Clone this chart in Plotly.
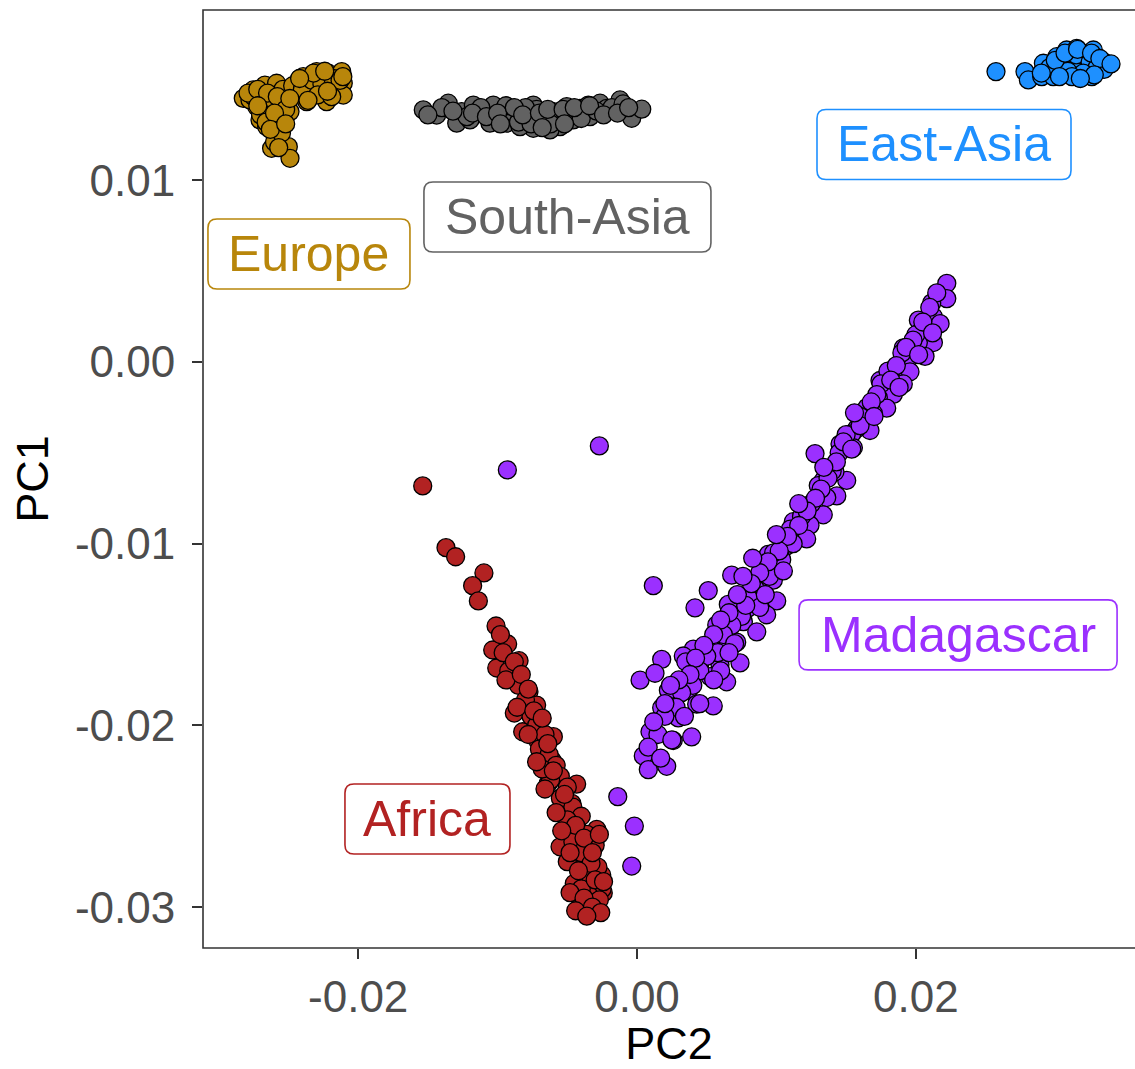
import plotly.graph_objects as go

# PCA scores: PC2 on the horizontal axis, PC1 on the vertical axis
europe_pc2 = [-0.02824, -0.02753, -0.02669, -0.02585, -0.02728, -0.02609, -0.02501, -0.02704,
              -0.02597, -0.02489, -0.02656, -0.02549, -0.02585, -0.02621, -0.02501, -0.02489,
              -0.02776, -0.02441, -0.02417, -0.02394, -0.02298, -0.02298, -0.02214, -0.02118,
              -0.02107, -0.02154, -0.02250, -0.02346, -0.02226, -0.02107, -0.02369,
              -0.0275, -0.0268, -0.0264, -0.0270, -0.0262, -0.0255, -0.0266, -0.0258, -0.0254,
              -0.0247, -0.0240, -0.0233, -0.0226, -0.0218, -0.0213, -0.0229, -0.0219, -0.0260,
              -0.0255,
              -0.0279, -0.0272, -0.0265, -0.0258, -0.0252, -0.0260, -0.0272, -0.0263, -0.0252,
              -0.0257, -0.0249, -0.0236, -0.0232, -0.0224, -0.0211, -0.0242, -0.0222]
europe_pc1 = [0.01451, 0.01497, 0.01524, 0.01534, 0.01405, 0.01424, 0.01433, 0.01332,
              0.01341, 0.01378, 0.01295, 0.01286, 0.01240, 0.01176, 0.01185, 0.01121,
              0.01442, 0.01479, 0.01561, 0.01570, 0.01543, 0.01598, 0.01589, 0.01598,
              0.01534, 0.01515, 0.01479, 0.01488, 0.01433, 0.01469, 0.01433,
              0.0146, 0.0141, 0.0137, 0.0136, 0.0145, 0.0141, 0.0132, 0.0130, 0.0150,
              0.0152, 0.0150, 0.0155, 0.0153, 0.0156, 0.0155, 0.0147, 0.0146, 0.0121,
              0.0126,
              0.0148, 0.0150, 0.0148, 0.0146, 0.0139, 0.0137, 0.0141, 0.0128, 0.0131,
              0.0118, 0.0145, 0.0144, 0.0159, 0.0160, 0.0157, 0.0156, 0.0149]

south_asia_pc2 = [-0.01533, -0.01437, -0.01354, -0.01258, -0.01293, -0.01174, -0.01103, -0.01031,
                  -0.00971, -0.00935, -0.00827, -0.00744, -0.00696, -0.00600, -0.00552, -0.00504,
                  -0.00409, -0.00337, -0.00265, -0.00217, -0.00122, -0.00098, -0.00038, 0.00034,
                  -0.00744, -0.00839, -0.00624, -0.01055, -0.01198, -0.00457, -0.00349,
                  -0.0140, -0.0122, -0.0112, -0.0090, -0.0085, -0.0078, -0.0072, -0.0066, -0.0058,
                  -0.0048, -0.0040, -0.0029, -0.0018, -0.0010, -0.0094, -0.0080, -0.0062, -0.0076,
                  -0.0150, -0.0132, -0.0118, -0.0108, -0.0100, -0.0088, -0.0082, -0.0070, -0.0064,
                  -0.0053, -0.0045, -0.0034, -0.0024, -0.0014, -0.0006, -0.0098, -0.0068, -0.0052]
south_asia_pc1 = [0.01387, 0.01359, 0.01424, 0.01378, 0.01314, 0.01414, 0.01369, 0.01414,
                  0.01378, 0.01314, 0.01369, 0.01414, 0.01314, 0.01378, 0.01295, 0.01405,
                  0.01396, 0.01350, 0.01424, 0.01396, 0.01442, 0.01387, 0.01341, 0.01391,
                  0.01286, 0.01295, 0.01277, 0.01314, 0.01332, 0.01332, 0.01414,
                  0.0140, 0.0135, 0.0140, 0.0138, 0.0132, 0.0136, 0.0139, 0.0134, 0.0136,
                  0.0137, 0.0134, 0.0138, 0.0140, 0.0142, 0.0141, 0.0140, 0.0131, 0.0131,
                  0.0136, 0.0138, 0.0137, 0.0135, 0.0137, 0.0140, 0.0136, 0.0137, 0.0139,
                  0.0139, 0.0140, 0.0141, 0.0136, 0.0137, 0.0140, 0.0131, 0.0129, 0.0131]

east_asia_pc2 = [0.02575, 0.02783, 0.02807, 0.02915, 0.02903, 0.03011, 0.03034, 0.03106,
                 0.03130, 0.03082, 0.03202, 0.03226, 0.03262, 0.03298, 0.03321, 0.03178,
                 0.02986, 0.03154, 0.03273, 0.03345,
                 0.0305, 0.0312, 0.0318, 0.0322, 0.0315, 0.0309, 0.0325, 0.0330, 0.0320,
                 0.0296, 0.0312, 0.0335,
                 0.0300, 0.0307, 0.0316, 0.0326, 0.0332, 0.0328, 0.0303, 0.0290, 0.0318, 0.0340]
east_asia_pc1 = [0.01598, 0.01598, 0.01552, 0.01644, 0.01570, 0.01680, 0.01607, 0.01671,
                 0.01589, 0.01717, 0.01699, 0.01625, 0.01570, 0.01671, 0.01616, 0.01561,
                 0.01570, 0.01726, 0.01717, 0.01653,
                 0.0164, 0.0163, 0.0166, 0.0168, 0.0169, 0.0160, 0.0165, 0.0162, 0.0159,
                 0.0162, 0.0157, 0.0161,
                 0.0166, 0.0170, 0.0172, 0.0170, 0.0167, 0.0158, 0.0157, 0.0159, 0.0156, 0.0164]

africa_pc2 = [-0.01537, -0.01370, -0.01301, -0.01098, -0.01179, -0.01138, -0.01011, -0.00928,
              -0.01035, -0.01006, -0.00846, -0.00882, -0.00775, -0.00880, -0.00820, -0.00720,
              -0.00708, -0.00600, -0.00608, -0.00636, -0.00433, -0.00468, -0.00529, -0.00433,
              -0.00289, -0.00349, -0.00552, -0.00409, -0.00253, -0.00433, -0.00289, -0.00242,
              -0.00361,
              -0.0096, -0.0092, -0.0085, -0.0080, -0.0076, -0.0072, -0.0066, -0.0070, -0.0063,
              -0.0058, -0.0055, -0.0050, -0.0055, -0.0046, -0.0040, -0.0050, -0.0036, -0.0046,
              -0.0030, -0.0040, -0.0050, -0.0028, -0.0035, -0.0045, -0.0025, -0.0035, -0.0040,
              -0.0030, -0.0027, -0.0033, -0.0062, -0.0068, -0.0040,
              -0.0098, -0.0088, -0.0094, -0.0083, -0.0078, -0.0086, -0.0074, -0.0068, -0.0078,
              -0.0064, -0.0072, -0.0060, -0.0066, -0.0052, -0.0058, -0.0044, -0.0054, -0.0038,
              -0.0048, -0.0032, -0.0042, -0.0030, -0.0048, -0.0038, -0.0032, -0.0044, -0.0026,
              -0.0036, -0.0024, -0.0027]
africa_pc1 = [-0.00682, -0.01022, -0.01072, -0.01161, -0.01231, -0.01315, -0.01453, -0.01552,
              -0.01585, -0.01684, -0.01644, -0.01734, -0.01815, -0.01932, -0.02035, -0.01888,
              -0.02090, -0.02062, -0.02194, -0.02319, -0.02323, -0.02429, -0.02585, -0.02557,
              -0.02572, -0.02668, -0.02668, -0.02778, -0.02823, -0.02906, -0.02961, -0.02922,
              -0.03016,
              -0.0160, -0.0170, -0.0178, -0.0186, -0.0195, -0.0200, -0.0205, -0.0213, -0.0216,
              -0.0222, -0.0228, -0.0234, -0.0240, -0.0245, -0.0250, -0.0252, -0.0260, -0.0264,
              -0.0266, -0.0270, -0.0275, -0.0278, -0.0283, -0.0287, -0.0290, -0.0293, -0.0298,
              -0.0300, -0.0296, -0.0276, -0.0230, -0.0224, -0.0290,
              -0.0150, -0.0165, -0.0175, -0.0172, -0.0180, -0.0190, -0.0192, -0.0196, -0.0205,
              -0.0210, -0.0220, -0.0225, -0.0235, -0.0238, -0.0248, -0.0255, -0.0258, -0.0262,
              -0.0270, -0.0270, -0.0280, -0.0285, -0.0292, -0.0295, -0.0300, -0.0302, -0.0303,
              -0.0305, -0.0286, -0.0260]

madagascar_pc2 = [-0.00930, -0.00270, 0.00117, -0.00138, -0.00019, -0.00038,
                  0.02222, 0.02222, 0.02114, 0.02126, 0.02018, 0.02174, 0.02030, 0.02126,
                  0.02018, 0.01910, 0.02066, 0.01935, 0.01958, 0.01839, 0.01910, 0.01743,
                  0.01839, 0.01731, 0.01791, 0.01695, 0.01671, 0.01576, 0.01540, 0.01456,
                  0.01552, 0.01277, 0.01408, 0.01504, 0.01420, 0.01336, 0.01433, 0.01361,
                  0.01336, 0.01241, 0.01157, 0.01217, 0.01121, 0.01074, 0.01026, 0.00942,
                  0.00930, 0.01038, 0.00978, 0.00870, 0.00679, 0.00846, 0.01002, 0.00930,
                  0.00798, 0.00655, 0.00511, 0.00416, 0.00763, 0.00667, 0.00859, 0.00572,
                  0.00715, 0.00643, 0.00524, 0.00404, 0.00739, 0.00595, 0.00452, 0.00332,
                  0.00177, 0.00643, 0.00524, 0.00368, 0.00225, 0.00022, 0.00129, 0.00547,
                  0.00428, 0.00177, 0.00296, 0.00392, 0.00093, 0.00260, 0.00045, 0.00213,
                  0.00081,
                  0.0200, 0.0190, 0.0180, 0.0175, 0.0165, 0.0160, 0.0150, 0.0145, 0.0140,
                  0.0130, 0.0125, 0.0118, 0.0110, 0.0105, 0.0098, 0.0090, 0.0085, 0.0080,
                  0.0075, 0.0068, 0.0062, 0.0058, 0.0050, 0.0045, 0.0040, 0.0032, 0.0028,
                  0.0020, 0.0015, 0.0112, 0.0095, 0.0088, 0.0070, 0.0035, 0.0060,
                  0.0215, 0.0210, 0.0205, 0.0198, 0.0193, 0.0186, 0.0182, 0.0172, 0.0168,
                  0.0160, 0.0156, 0.0148, 0.0143, 0.0137, 0.0132, 0.0128, 0.0122, 0.0116,
                  0.0108, 0.0102, 0.0100, 0.0094, 0.0088, 0.0082, 0.0092, 0.0078, 0.0072,
                  0.0066, 0.0060, 0.0055, 0.0066, 0.0048, 0.0042, 0.0055, 0.0038, 0.0030,
                  0.0024, 0.0045, 0.0034, 0.0020, 0.0012, 0.0025, 0.0008, 0.0017, 0.0105,
                  0.0083, 0.0076, 0.0116, 0.0134, 0.0154, 0.0170, 0.0188, 0.0202, 0.0212]
madagascar_pc1 = [-0.00594, -0.00462, -0.01231, -0.02392, -0.02554, -0.02774,
                  0.00433, 0.00349, 0.00325, 0.00249, 0.00230, 0.00211, 0.00163, 0.00107,
                  0.00107, 0.00078, 0.00031, 0.00002, -0.00054, -0.00083, -0.00121, -0.00102,
                  -0.00178, -0.00196, -0.00254, -0.00282, -0.00377, -0.00367, -0.00396, -0.00452,
                  -0.00472, -0.00504, -0.00576, -0.00652, -0.00604, -0.00652, -0.00737, -0.00746,
                  -0.00841, -0.00898, -0.00955, -0.00974, -0.00879, -0.01012, -0.01068, -0.01059,
                  -0.01135, -0.01088, -0.01201, -0.01201, -0.01173, -0.01277, -0.01315, -0.01391,
                  -0.01353, -0.01334, -0.01258, -0.01353, -0.01429, -0.01438, -0.01485, -0.01447,
                  -0.01542, -0.01580, -0.01561, -0.01580, -0.01656, -0.01665, -0.01656, -0.01618,
                  -0.01637, -0.01760, -0.01732, -0.01807, -0.01807, -0.01751, -0.01713, -0.01893,
                  -0.01883, -0.01903, -0.01959, -0.02063, -0.02035, -0.02083, -0.02168, -0.02225,
                  -0.02243,
                  0.0015, 0.0005, -0.0005, -0.0012, -0.0025, -0.0030, -0.0040, -0.0050, -0.0060,
                  -0.0068, -0.0078, -0.0085, -0.0092, -0.0100, -0.0105, -0.0112, -0.0125, -0.0130,
                  -0.0140, -0.0145, -0.0150, -0.0160, -0.0162, -0.0170, -0.0178, -0.0182, -0.0190,
                  -0.0195, -0.0205, -0.0100, -0.0118, -0.0135, -0.0155, -0.0165, -0.0170,
                  0.0038, 0.0030, 0.0022, 0.0012, 0.0008, -0.0002, -0.0010, -0.0018, -0.0022,
                  -0.0035, -0.0028, -0.0044, -0.0055, -0.0064, -0.0070, -0.0075, -0.0082, -0.0090,
                  -0.0096, -0.0104, -0.0095, -0.0110, -0.0116, -0.0122, -0.0128, -0.0134, -0.0128,
                  -0.0138, -0.0142, -0.0150, -0.0160, -0.0156, -0.0163, -0.0175, -0.0172, -0.0175,
                  -0.0178, -0.0188, -0.0195, -0.0188, -0.0198, -0.0208, -0.0212, -0.0218, -0.0115,
                  -0.0108, -0.0118, -0.0078, -0.0058, -0.0048, -0.0030, -0.0014, 0.0004, 0.0016]

# Region labels and where they sit
label_names = ["Europe", "South-Asia", "East-Asia", "Madagascar", "Africa"]
label_pc2 = [-0.02353, -0.00499, 0.02202, 0.02303, -0.01503]
label_pc1 = [0.00594, 0.00798, 0.01197, -0.01502, -0.02515]

x_tick_vals = [-0.02, 0.0, 0.02]
x_tick_text = ["-0.02", "0.00", "0.02"]
y_tick_vals = [0.01, 0.0, -0.01, -0.02, -0.03]
y_tick_text = ["0.01", "0.00", "-0.01", "-0.02", "-0.03"]

colors = {
    "Africa": "#B22222",
    "East-Asia": "#1E90FF",
    "Europe": "#B8860B",
    "Madagascar": "#9B30FF",
    "South-Asia": "#626262",
}
box_width = {"Europe": 202, "South-Asia": 287, "East-Asia": 254, "Madagascar": 318, "Africa": 165}
BOX_H = 70
RADIUS = 9
FONT = "Liberation Sans, Arial, Helvetica, sans-serif"

series = [
    ("Africa", africa_pc2, africa_pc1),
    ("East-Asia", east_asia_pc2, east_asia_pc1),
    ("Europe", europe_pc2, europe_pc1),
    ("Madagascar", madagascar_pc2, madagascar_pc1),
    ("South-Asia", south_asia_pc2, south_asia_pc1),
]

fig = go.Figure()
for name, xs, ys in series:
    fig.add_trace(go.Scatter(
        x=xs, y=ys, mode="markers", name=name, showlegend=False,
        marker=dict(size=18, color=colors[name], line=dict(color="black", width=1.3)),
    ))


def rounded_box(w, h, r):
    a, b = w / 2, h / 2
    return (f"M {-a + r},{-b} L {a - r},{-b} Q {a},{-b} {a},{-b + r} "
            f"L {a},{b - r} Q {a},{b} {a - r},{b} L {-a + r},{b} "
            f"Q {-a},{b} {-a},{b - r} L {-a},{-b + r} Q {-a},{-b} {-a + r},{-b} Z")


for name, lx, ly in zip(label_names, label_pc2, label_pc1):
    fig.add_shape(
        type="path", xref="x", yref="y", xsizemode="pixel", ysizemode="pixel",
        xanchor=lx, yanchor=ly, path=rounded_box(box_width[name], BOX_H, RADIUS),
        line=dict(color=colors[name], width=1.6), fillcolor="white", layer="above",
    )
    fig.add_annotation(
        x=lx, y=ly, text=name, showarrow=False, xanchor="center", yanchor="middle",
        font=dict(family=FONT, size=50, color=colors[name]),
    )

# panel border (runs off the right edge of the canvas)
fig.add_shape(type="rect", xref="paper", yref="paper", x0=0, x1=1.02, y0=0, y1=1,
              line=dict(color="#333333", width=1.6), layer="above")

axis_common = dict(
    showgrid=False, zeroline=False, showline=False,
    ticks="outside", ticklen=10, tickwidth=1.6, tickcolor="#333333",
    tickfont=dict(family=FONT, size=44, color="#4D4D4D"),
)

fig.update_xaxes(
    range=[-0.03113, 0.03572], tickvals=x_tick_vals, ticktext=x_tick_text,
    title=dict(text="PC2", font=dict(family=FONT, size=45, color="black"), standoff=14),
    **axis_common,
)
fig.update_yaxes(
    range=[-0.03225, 0.01937], tickvals=y_tick_vals, ticktext=y_tick_text,
    ticklabelstandoff=8,
    title=dict(text="PC1", font=dict(family=FONT, size=45, color="black"), standoff=12),
    **axis_common,
)

fig.update_layout(
    width=1135, height=1069,
    margin=dict(l=203, r=0, t=10, b=121),
    plot_bgcolor="white", paper_bgcolor="white",
    font=dict(family=FONT),
)

fig.write_html("out.html")
